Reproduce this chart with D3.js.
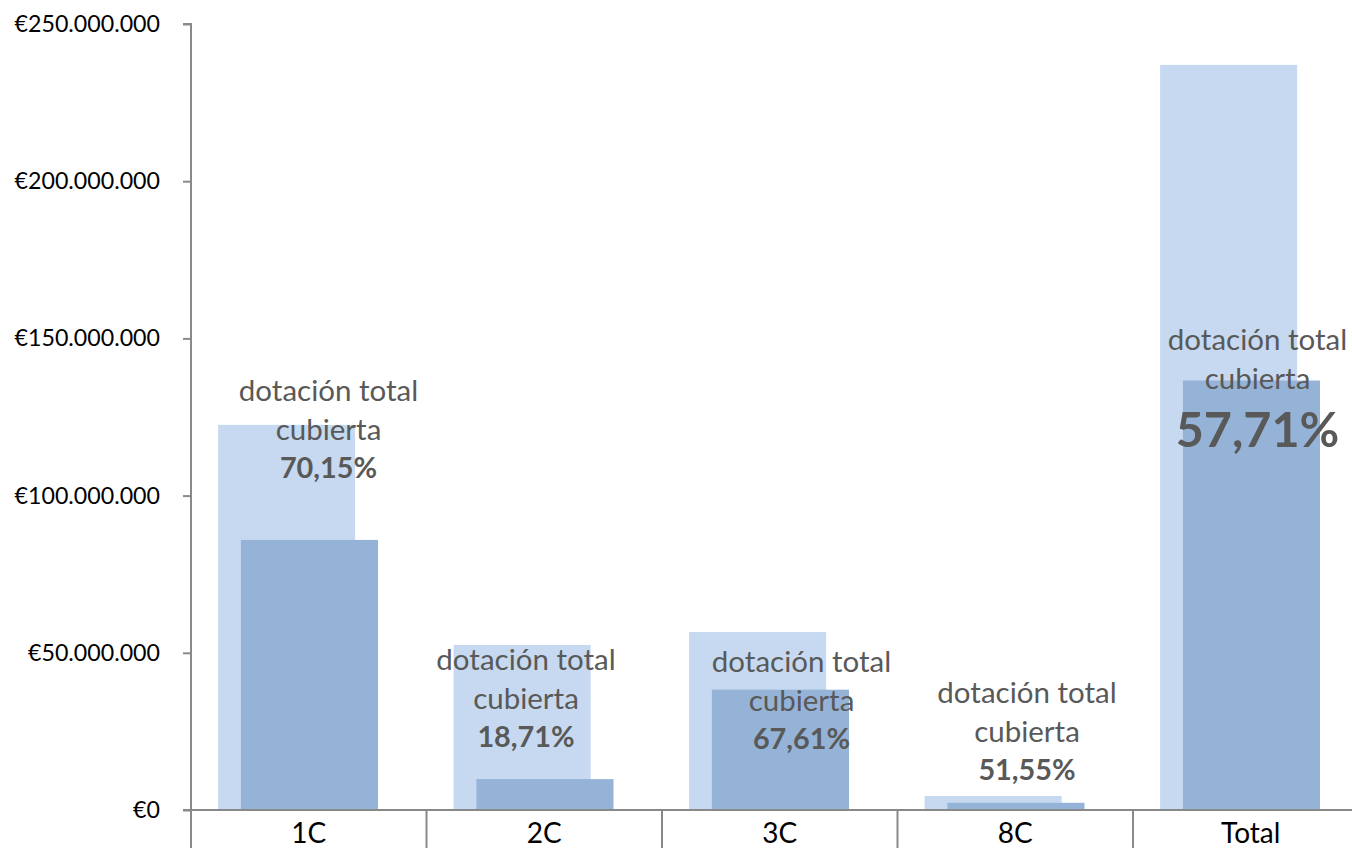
<!DOCTYPE html>
<html><head><meta charset="utf-8">
<script src="https://cdn.jsdelivr.net/npm/d3@7"></script>
<style>html,body{margin:0;padding:0;background:#fff;overflow:hidden}</style>
</head><body>
<svg id="c" width="1352" height="848"></svg>
<script>
const categories = ["1C","2C","3C","8C","Total"];
const dotacionTotal = [122500000, 52500000, 56600000, 4450000, 237000000];
const dotacionCubierta = [85900000, 9820000, 38270000, 2290000, 136600000];
const percentLabels = ["70,15%","18,71%","67,61%","51,55%","57,71%"];
const yTicks = [0, 50000000, 100000000, 150000000, 200000000, 250000000];

// layout (not data): label anchor offsets from band start, and first-line baseline
const labelLayout = [[137.5,401],[99.5,670],[139.5,672],[129.5,703],[124.5,350]];

(function(){
const svg = d3.select("#c");
const mLeft = 191, mTop = 24, mBottom = 810, mRight = 191 + 235.5*5;
const font = "Lato, 'Open Sans', sans-serif";

const x = d3.scaleBand().domain(categories).range([mLeft, mRight]).paddingInner(0).paddingOuter(0);
const y = d3.scaleLinear().domain([0, 250000000]).range([mBottom, mTop]);
const bw = x.bandwidth();
const barW = bw * 0.582, offL = bw * 0.115, offD = bw * 0.212;

const fmt = v => "€" + d3.format(",")(v).replace(/,/g, ".");

svg.append("g").selectAll("rect").data(categories).join("rect")
  .attr("x", (d) => x(d) + offL).attr("width", barW)
  .attr("y", (d,i) => y(dotacionTotal[i])).attr("height", (d,i) => y(0) - y(dotacionTotal[i]))
  .attr("fill", "#c6d9f0");
svg.append("g").selectAll("rect").data(categories).join("rect")
  .attr("x", (d) => x(d) + offD).attr("width", barW)
  .attr("y", (d,i) => y(dotacionCubierta[i])).attr("height", (d,i) => y(0) - y(dotacionCubierta[i]))
  .attr("fill", "#95b3d7");

const ya = svg.append("g").attr("transform", `translate(${mLeft},0)`)
  .call(d3.axisLeft(y).tickValues(yTicks).tickFormat(fmt).tickSize(8).tickPadding(23));
ya.select(".domain").attr("stroke", "#898989").attr("stroke-width", 2).attr("d", `M-8,${mTop}H0V${mBottom}`);
ya.selectAll(".tick line").attr("stroke", "#898989").attr("stroke-width", 2);
ya.selectAll(".tick text").attr("font-family", font).attr("font-size", 23.2).attr("fill", "#000");

const xa = svg.append("g").attr("transform", `translate(0,${mBottom})`);
xa.append("line").attr("x1", mLeft - 8).attr("x2", mRight).attr("y1", 0).attr("y2", 0)
  .attr("stroke", "#898989").attr("stroke-width", 2);
xa.selectAll("line.sep").data(categories.map(c => x(c)).concat([mRight])).join("line").attr("class","sep")
  .attr("x1", d => d).attr("x2", d => d).attr("y1", 0).attr("y2", 40)
  .attr("stroke", "#898989").attr("stroke-width", 2);
xa.selectAll("text").data(categories).join("text")
  .attr("x", d => x(d) + bw/2).attr("y", 33).attr("text-anchor", "middle")
  .attr("font-family", font).attr("font-size", 28).attr("fill", "#000").text(d => d);

const lg = svg.append("g").attr("font-family", font).attr("fill", "#595959").attr("text-anchor", "middle");
categories.forEach((c, i) => {
  const cx = x(c) + labelLayout[i][0], by = labelLayout[i][1];
  lg.append("text").attr("x", cx).attr("y", by).attr("font-size", 29.5).text("dotación total");
  lg.append("text").attr("x", cx).attr("y", by + 39).attr("font-size", 29.5).text("cubierta");
  const big = c === "Total";
  lg.append("text").attr("x", cx).attr("y", big ? by + 97 : by + 77)
    .attr("font-size", big ? 48.5 : 28.8).attr("font-weight", "bold").text(percentLabels[i]);
});
})();
</script>
</body></html>
